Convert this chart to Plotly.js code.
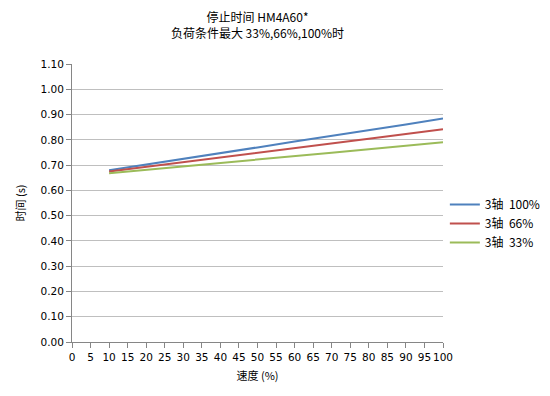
<!DOCTYPE html>
<html>
<head>
<meta charset="utf-8">
<script src="https://cdn.plot.ly/plotly-3.0.1.min.js"></script>
<style>html,body{margin:0;padding:0;background:#fff}#chart{width:550px;height:396px}</style>
</head>
<body>
<div id="chart"></div>
<script>
const speed = [10, 20, 30, 40, 50, 60, 70, 80, 90, 100];
const series100 = [0.680, 0.702, 0.725, 0.747, 0.770, 0.793, 0.815, 0.838, 0.861, 0.884];
const series66  = [0.675, 0.693, 0.712, 0.730, 0.749, 0.767, 0.786, 0.804, 0.823, 0.842];
const series33  = [0.668, 0.681, 0.695, 0.709, 0.722, 0.736, 0.749, 0.763, 0.777, 0.790];
const seriesNames = ['3轴  100%', '3轴  66%', '3轴  33%'];
const xTicks = [0,5,10,15,20,25,30,35,40,45,50,55,60,65,70,75,80,85,90,95,100];
const yTicks = [0,0.1,0.2,0.3,0.4,0.5,0.6,0.7,0.8,0.9,1.0,1.1];

const cjk = '"Noto Sans CJK SC", "DejaVu Sans", sans-serif';
const tickFont = {family: '"DejaVu Sans", Verdana, sans-serif', size: 10.5, color: '#000'};

const traces = [
  {x: speed, y: series100, name: seriesNames[0], mode: 'lines', line: {color: '#4F81BD', width: 2}},
  {x: speed, y: series66,  name: seriesNames[1], mode: 'lines', line: {color: '#C0504D', width: 2}},
  {x: speed, y: series33,  name: seriesNames[2], mode: 'lines', line: {color: '#9BBB59', width: 2}}
];

const layout = {
  width: 550, height: 396,
  margin: {l: 72, r: 107, t: 64, b: 54, autoexpand: false},
  paper_bgcolor: '#fff', plot_bgcolor: '#fff',
  title: {
    text: '停止时间 HM4A60*<br>负荷条件最大 33%,66%,100%时',
    font: {family: cjk, size: 12, color: '#000'},
    x: 0.5, xref: 'paper', xanchor: 'center',
    y: 0.944, yref: 'container', yanchor: 'middle'
  },
  xaxis: {
    range: [0, 100], tickvals: xTicks, ticktext: xTicks.map(String), tickangle: 0,
    showgrid: false, zeroline: false, showline: true, linecolor: '#868686', linewidth: 1,
    ticks: 'outside', ticklen: 5, tickcolor: '#868686',
    tickfont: tickFont, automargin: false,
    title: {text: '速度 (%)', font: {family: cjk, size: 11, color: '#000'}, standoff: 10}
  },
  yaxis: {
    range: [0, 1.1], tickvals: yTicks, tickformat: '.2f',
    showgrid: true, gridcolor: '#BFBFBF', gridwidth: 1, zeroline: false,
    showline: true, linecolor: '#868686', linewidth: 1,
    ticks: 'outside', ticklen: 5, tickcolor: '#868686',
    tickfont: tickFont, automargin: false,
    title: {text: '时间 (s)', font: {family: cjk, size: 11, color: '#000'}, standoff: 12}
  },
  legend: {
    x: 1.005, xanchor: 'left', y: 0.547, yanchor: 'top',
    font: {family: cjk, size: 12, color: '#000'},
    itemwidth: 30, tracegroupgap: 0, bgcolor: 'rgba(0,0,0,0)'
  },
  showlegend: true
};

Plotly.newPlot('chart', traces, layout, {staticPlot: true});
</script>
</body>
</html>
